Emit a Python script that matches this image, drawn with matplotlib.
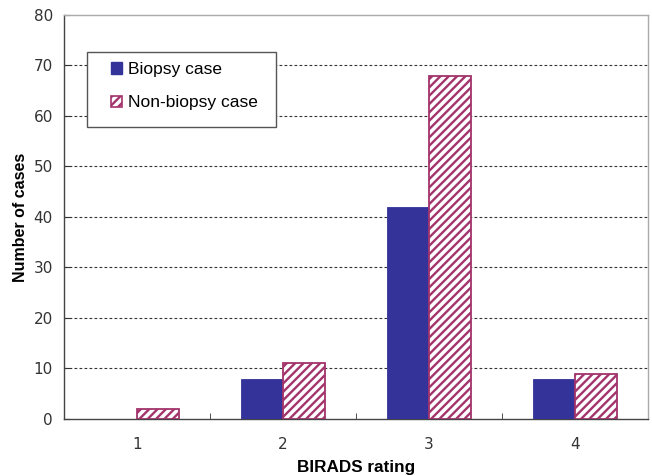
import numpy as np
import matplotlib
matplotlib.use("Agg")
import matplotlib.pyplot as plt
from matplotlib.patches import Patch, Rectangle

ratings = ["1", "2", "3", "4"]
biopsy = [0, 8, 42, 8]
non_biopsy = [2, 11, 68, 9]

blue = "#333399"
maroon = "#A3336B"

plt.rcParams["hatch.linewidth"] = 1.7
plt.rcParams["font.family"] = ["Liberation Sans", "DejaVu Sans"]
narrow = ["Liberation Sans Narrow", "DejaVu Sans Condensed", "DejaVu Sans"]

fig = plt.figure(figsize=(6.52, 4.75), dpi=100)
ax = fig.add_axes([0.098, 0.118, 0.8957, 0.8505])

x = np.arange(1, len(ratings) + 1)
w = 0.288
ax.bar(x - w / 2, biopsy, w, color=blue, edgecolor=blue, linewidth=0.6, zorder=3)
ax.bar(x + w / 2, non_biopsy, w, facecolor="white", edgecolor=maroon,
       hatch="////", linewidth=1.3, zorder=3)

ax.set_xlim(0.5, 4.5)
ax.set_ylim(0, 80)
ax.set_yticks(range(0, 81, 10))
ax.set_xticks(x)
ax.set_xticklabels(ratings)
ax.set_xticks(np.arange(1.5, 4.5, 1), minor=True)
ax.tick_params(axis="x", which="major", length=0, pad=13)
ax.tick_params(axis="x", which="minor", length=4, direction="in", color="#333333")
ax.tick_params(axis="y", length=4, direction="in", color="#333333", pad=8)
for lab in ax.get_xticklabels() + ax.get_yticklabels():
    lab.set_family(narrow)
    lab.set_fontsize(11)
    lab.set_color("#333333")

for y in range(10, 80, 10):
    ax.axhline(y, color="#333333", linestyle=(0, (2.5, 2.0)), linewidth=0.8, zorder=1)

for side in ["top", "right"]:
    ax.spines[side].set_color("#aaaaaa")
    ax.spines[side].set_linewidth(1.0)
for side in ["left", "bottom"]:
    ax.spines[side].set_color("#444444")
    ax.spines[side].set_linewidth(1.0)

ax.set_xlabel("BIRADS rating", fontsize=12.3, fontweight="bold", labelpad=6)
ax.set_ylabel("Number of cases", fontsize=11.5, fontweight="bold", labelpad=4)

# legend frame drawn separately so the padding can differ per direction
ax.add_patch(Rectangle((0.0394, 0.7228), 0.3236, 0.1856, transform=ax.transAxes,
                       facecolor="white", edgecolor="#555555", linewidth=1.0,
                       zorder=4, clip_on=False))
handles = [
    Patch(facecolor=blue, edgecolor=blue, label="Biopsy case"),
    Patch(facecolor="white", edgecolor=maroon, hatch="////", linewidth=1.2,
          label="Non-biopsy case"),
]
leg = ax.legend(handles=handles, loc="upper left", bbox_to_anchor=(0.0805, 0.883),
                frameon=False, fontsize=12.5, handlelength=0.65,
                handleheight=0.65, handletextpad=0.35, labelspacing=1.05,
                borderpad=0, borderaxespad=0)
leg.set_zorder(5)

fig.savefig("out.png", dpi=100)
